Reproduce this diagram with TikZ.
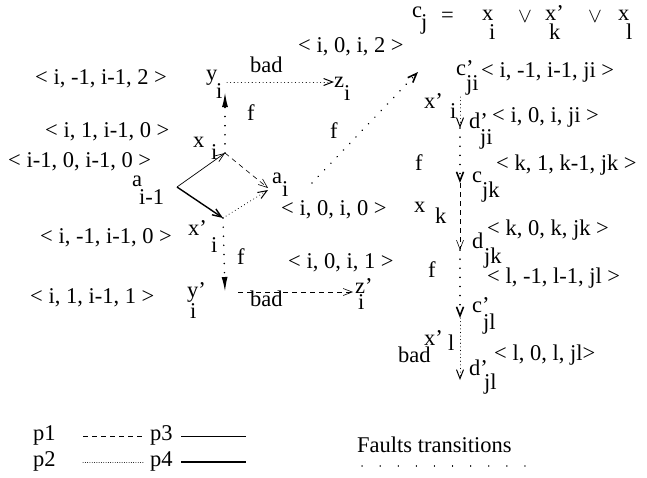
\documentclass[tikz,border=0pt]{standalone}
\usepackage{fontspec}
\setmainfont{Liberation Serif}
\usetikzlibrary{arrows.meta}
\begin{document}
\begin{tikzpicture}[x=1pt,y=-1pt,
  lbl/.style={anchor=base west,inner sep=0pt,font=\fontsize{22.5}{25}\selectfont},
  pone/.style={dash pattern=on 5pt off 4pt, line width=0.6pt},
  ptwo/.style={dash pattern=on 0.1pt off 3.5pt, line width=1pt, line cap=round},
  fault/.style={dash pattern=on 0.1pt off 9pt, line width=1.6pt, line cap=round},
  pthree/.style={line width=0.7pt},
  pfour/.style={line width=1.4pt},
  barb/.style={-{Straight Barb[length=9pt,width=7pt]}},
  bigtip/.style={-{Latex[length=15pt,width=6pt]}}
]
\useasboundingbox (0,0) rectangle (647,477);

% ---------------- left part labels
\node[lbl] (t1) at (35,84) {< i, -1, i-1, 2 >};
\node[lbl] (yi) at (206,80) {y};
\node[lbl] (yis) at (216,98) {i};
\node[lbl] (bad1) at (250,72) {bad};
\node[lbl] (t6) at (298,52) {< i, 0, i, 2 >};
\node[lbl] (zi) at (334,87) {z};
\node[lbl] (zis) at (344,100) {i};
\node[lbl] (f1) at (247,120) {f};
\node[lbl] (t2) at (45,137) {< i, 1, i-1, 0 >};
\node[lbl] (xi) at (193,147) {x};
\node[lbl] (xis) at (211,159) {i};
\node[lbl] (f2) at (330,138) {f};
\node[lbl] (t3) at (8,167) {< i-1, 0, i-1, 0 >};
\node[lbl] (aim) at (132,186) {a};
\node[lbl] (aims) at (139,204) {i-1};
\node[lbl] (ai) at (272,183) {a};
\node[lbl] (ais) at (282,196) {i};
\node[lbl] (t7) at (281,215) {< i, 0, i, 0 >};
\node[lbl] (t4) at (40,243) {< i, -1, i-1, 0 >};
\node[lbl] (xpi) at (188,235) {x'};
\node[lbl] (xpis) at (211,252) {i};
\node[lbl] (f3) at (237,264) {f};
\node[lbl] (t8) at (288,268) {< i, 0, i, 1 >};
\node[lbl] (t5) at (30,303) {< i, 1, i-1, 1 >};
\node[lbl] (ypi) at (187,297) {y'};
\node[lbl] (ypis) at (190,318) {i};
\node[lbl] (bad2) at (250,306) {bad};
\node[lbl] (zpi) at (355,293) {z'};
\node[lbl] (zpis) at (358,309) {i};

% ---------------- left part connectors
\coordinate (n0) at (225,153);
\coordinate (na) at (177,187);
\coordinate (nx) at (223,218);
\coordinate (ta) at (268,190);
\coordinate (tb) at (268,188);
\coordinate (ty) at (225,92);
\coordinate (yb) at (227,82);
\coordinate (ze) at (334,82);
\coordinate (as) at (312,183);
\coordinate (ae) at (418,72);
\coordinate (td) at (225,292);
\coordinate (bs) at (238,292);
\coordinate (be) at (353,292);

\draw[pthree,barb] (na) -- (n0);
\draw[pfour,barb] (na) -- (nx);
\draw[pone,barb] (n0) -- (tb);
\draw[ptwo,barb] (nx) -- (ta);
\draw[fault,bigtip] (n0) -- (ty);
\draw[fault,bigtip] (nx) -- (td);
\draw[ptwo,barb] (yb) -- (ze);
\draw[fault,barb] (as) -- (ae);
\draw[pone,barb] (bs) -- (be);

% ---------------- clause
\node[lbl] (cj) at (412,17) {c};
\node[lbl] (cjs) at (421,29) {j};
\node[lbl] (eq) at (441,22) {=};
\node[lbl] (cx1) at (482,20) {x};
\node[lbl] (cx1s) at (489,39) {i};
\node[lbl] (or1) at (518,22) {$\vee$};
\node[lbl] (cx2) at (545,20) {x'};
\node[lbl] (cx2s) at (549,39) {k};
\node[lbl] (or2) at (588,22) {$\vee$};
\node[lbl] (cx3) at (618,20) {x};
\node[lbl] (cx3s) at (626,39) {l};

% ---------------- right column labels
\node[lbl] (cpji) at (456,75) {c'};
\node[lbl] (cpjis) at (466,90) {ji};
\node[lbl] (r1) at (481,77) {< i, -1, i-1, ji >};
\node[lbl] (xpil) at (424,108) {x'};
\node[lbl] (xpils) at (450,118) {i};
\node[lbl] (dpji) at (469,128) {d'};
\node[lbl] (dpjis) at (480,144) {ji};
\node[lbl] (r2) at (492,122) {< i, 0, i, ji >};
\node[lbl] (f4) at (415,170) {f};
\node[lbl] (cjk) at (472,182) {c};
\node[lbl] (cjks) at (482,197) {jk};
\node[lbl] (r3) at (496,170) {< k, 1, k-1, jk >};
\node[lbl] (xk) at (414,212) {x};
\node[lbl] (xks) at (435,223) {k};
\node[lbl] (djk) at (472,248) {d};
\node[lbl] (djks) at (484,263) {jk};
\node[lbl] (r4) at (487,235) {< k, 0, k, jk >};
\node[lbl] (f5) at (428,277) {f};
\node[lbl] (r5) at (487,283) {< l, -1, l-1, jl >};
\node[lbl] (cpjl) at (472,312) {c'};
\node[lbl] (cpjls) at (483,329) {jl};
\node[lbl] (xpl) at (424,345) {x'};
\node[lbl] (xpls) at (448,350) {l};
\node[lbl] (bad3) at (398,362) {bad};
\node[lbl] (dpjl) at (469,375) {d'};
\node[lbl] (dpjls) at (484,389) {jl};
\node[lbl] (r6) at (494,360) {< l, 0, l, jl>};

% ---------------- right column connectors
\coordinate (c0) at (460,97);
\coordinate (c1) at (460,128);
\coordinate (c2) at (460,183);
\coordinate (c3) at (460,250);
\coordinate (c4) at (460,318);
\coordinate (c5) at (460,380);
\draw[ptwo,barb] (c0) -- (c1);
\draw[fault,barb] (c1) -- (c2);
\draw[pone,barb] (c2) -- (c3);
\draw[fault,barb] (c3) -- (c4);
\draw[ptwo,barb] (c4) -- (c5);

% ---------------- legend
\node[lbl] (lp1) at (33,440) {p1};
\node[lbl] (lp2) at (33,466) {p2};
\node[lbl] (lp3) at (150,440) {p3};
\node[lbl] (lp4) at (150,466) {p4};
\node[lbl] (lft) at (357,452) {Faults transitions};
\coordinate (l1a) at (83,436); \coordinate (l1b) at (143,436);
\coordinate (l2a) at (83,462); \coordinate (l2b) at (143,462);
\coordinate (l3a) at (181,436); \coordinate (l3b) at (246,436);
\coordinate (l4a) at (181,462); \coordinate (l4b) at (246,462);
\coordinate (lfa) at (362,466); \coordinate (lfb) at (525,466);
\draw[pone] (l1a) -- (l1b);
\draw[ptwo,dash pattern=on 0.1pt off 2.2pt,line width=0.8pt] (l2a) -- (l2b);
\draw[pthree] (l3a) -- (l3b);
\draw[pfour] (l4a) -- (l4b);
\draw[fault,dash pattern=on 0.1pt off 18pt,line width=1.2pt] (lfa) -- (lfb);
\end{tikzpicture}
\end{document}
